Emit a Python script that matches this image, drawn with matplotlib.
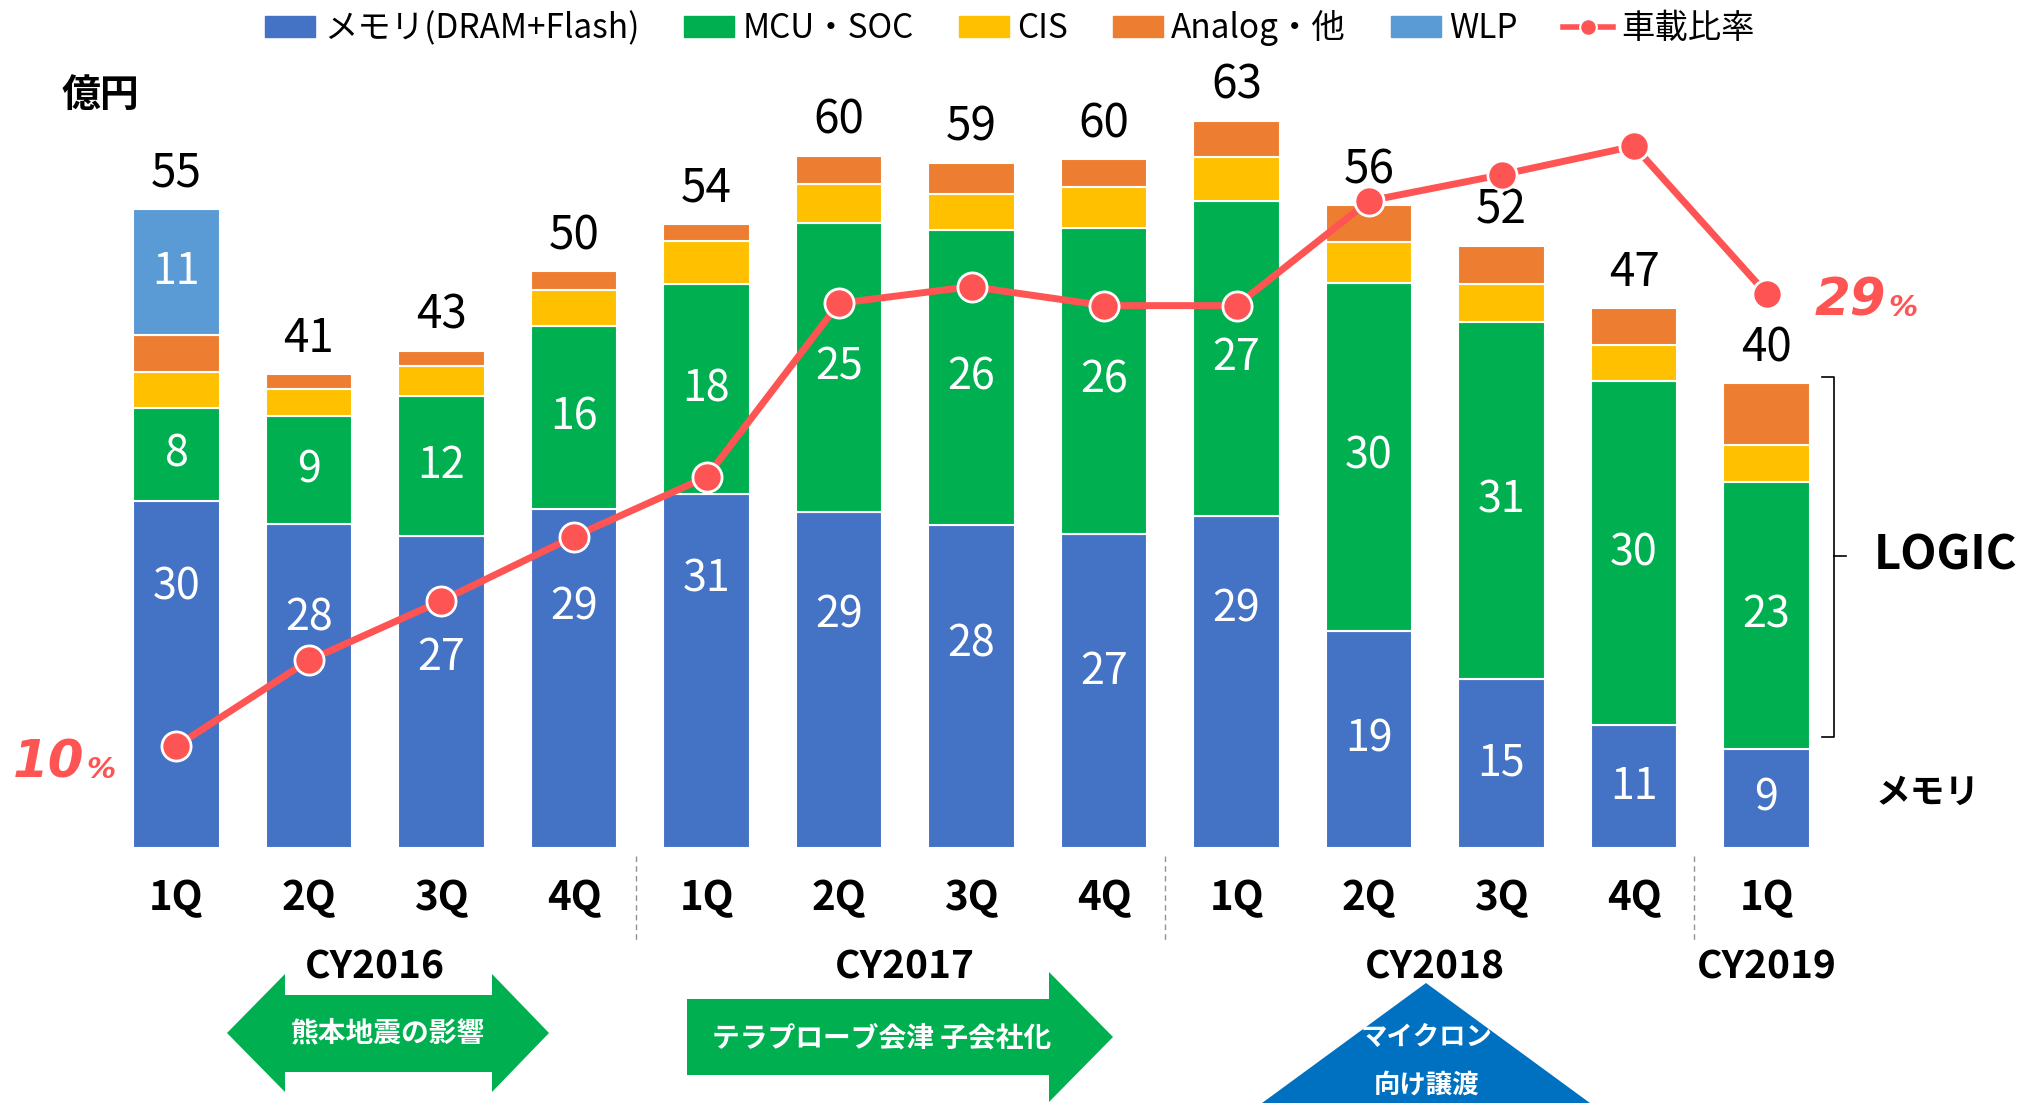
import matplotlib
matplotlib.use("Agg")
import matplotlib.pyplot as plt
import matplotlib.transforms as mtransforms
from matplotlib.patches import Polygon, Patch
from matplotlib.lines import Line2D
import numpy as np

plt.rcParams['font.family'] = ['Noto Sans CJK JP', 'DejaVu Sans']

# データ（億円）
quarters = ['1Q', '2Q', '3Q', '4Q', '1Q', '2Q', '3Q', '4Q', '1Q', '2Q', '3Q', '4Q', '1Q']
years = ['CY2016', 'CY2017', 'CY2018', 'CY2019']
memory = [30.0, 28.0, 27.0, 29.3, 30.6, 29.1, 27.9, 27.2, 28.7, 18.8, 14.6, 10.6, 8.6]
mcu_soc = [8.1, 9.4, 12.1, 15.9, 18.2, 25.0, 25.6, 26.4, 27.3, 30.1, 30.9, 29.8, 23.1]
cis = [3.1, 2.3, 2.6, 3.1, 3.7, 3.3, 3.1, 3.6, 3.8, 3.5, 3.3, 3.15, 3.2]
analog = [3.2, 1.3, 1.3, 1.6, 1.5, 2.5, 2.7, 2.4, 3.1, 3.2, 3.3, 3.2, 5.3]
wlp = [10.9, 0, 0, 0, 0, 0, 0, 0, 0, 0, 0, 0, 0]
# 車載比率（%）
car_ratio = [10.0, 13.6, 16.1, 18.8, 21.3, 28.6, 29.3, 28.5, 28.5, 32.9, 34.0, 35.2, 29.0]

# メモリのラベル位置（セグメント内の高さ比）
mem_label_frac = [0.75, 0.71, 0.61, 0.71, 0.76, 0.69, 0.63, 0.56, 0.72, 0.5, 0.5, 0.5, 0.5]

C_MEM = '#4472C4'
C_MCU = '#00B050'
C_CIS = '#FFC000'
C_ANA = '#ED7D31'
C_WLP = '#5B9BD5'
C_RED = '#FF5454'

W, H = 2020, 1103
fig = plt.figure(figsize=(W / 100, H / 100), dpi=100)
ax = fig.add_axes([0, 0, 1, 1])
ax.set_xlim(-1.332, 13.913)
ax.set_ylim(-22.06, 73.36)
ax.axis('off')

# 左上原点のピクセル座標
pix = mtransforms.Affine2D().scale(1 / W, -1 / H).translate(0, 1) + fig.transFigure

x = np.arange(len(quarters))
bw = 0.65
mem = np.array(memory)
mcu = np.array(mcu_soc)
ci = np.array(cis)
an = np.array(analog)
wl = np.array(wlp)

kw = dict(width=bw, edgecolor='white', linewidth=1.5)
ax.bar(x, mem, color=C_MEM, **kw)
ax.bar(x, mcu, bottom=mem, color=C_MCU, **kw)
ax.bar(x, ci, bottom=mem + mcu, color=C_CIS, **kw)
ax.bar(x, an, bottom=mem + mcu + ci, color=C_ANA, **kw)
ax.bar(x[wl > 0], wl[wl > 0], bottom=(mem + mcu + ci + an)[wl > 0], color=C_WLP, **kw)

total = mem + mcu + ci + an + wl
for i in range(len(x)):
    ax.text(x[i], total[i] + 1.9, f"{total[i]:.0f}", ha='center', va='baseline',
            fontsize=33, color='black')
    ax.text(x[i], mem[i] * mem_label_frac[i], f"{mem[i]:.0f}", ha='center', va='center',
            fontsize=31, color='white')
    ax.text(x[i], mem[i] + mcu[i] / 2, f"{mcu[i]:.0f}", ha='center', va='center',
            fontsize=31, color='white')
    if wl[i] > 0:
        b = mem[i] + mcu[i] + ci[i] + an[i]
        ax.text(x[i], b + wl[i] / 2, f"{wl[i]:.0f}", ha='center', va='center',
                fontsize=31, color='white')
    ax.text(x[i], -4.4, quarters[i], ha='center', va='center', fontsize=29,
            fontweight='bold')

# 年ラベル
for xi, yr in zip([1.5, 5.5, 9.5, 12], years):
    ax.text(xi, -10.3, yr, ha='center', va='center', fontsize=28, fontweight='bold')

# 区切り線
for xs in [3.47, 7.46, 11.45]:
    ax.plot([xs, xs], [-0.7, -8.1], color='#909090', lw=1, ls=(0, (4, 3)))

# 車載比率（第2軸）
ax2 = ax.twinx()
ax2.set_ylim(-5.0, 41.34)
ax2.axis('off')
ax2.plot(x, car_ratio, color=C_RED, lw=5, marker='o', ms=21,
         markerfacecolor=C_RED, markeredgecolor='white', markeredgewidth=2, zorder=5)

# 10% / 29%
ax.text(84, 778, '10', transform=pix, ha='right', va='baseline', color=C_RED,
        fontsize=37, fontweight='bold', style='italic', family='DejaVu Sans')
ax.text(86, 778, '%', transform=pix, ha='left', va='baseline', color=C_RED,
        fontsize=21, fontweight='bold', style='italic', family='DejaVu Sans')
ax.text(1886, 316, '29', transform=pix, ha='right', va='baseline', color=C_RED,
        fontsize=37, fontweight='bold', style='italic', family='DejaVu Sans')
ax.text(1888, 316, '%', transform=pix, ha='left', va='baseline', color=C_RED,
        fontsize=21, fontweight='bold', style='italic', family='DejaVu Sans')

# 単位
ax.text(100, 95, '億円', transform=pix, ha='center', va='center', fontsize=28,
        fontweight='bold')

# LOGIC の括弧
ax.plot([1822, 1834, 1834, 1822], [377, 377, 737, 737], transform=pix,
        color='black', lw=1.2, clip_on=False)
ax.plot([1834, 1846], [556, 556], transform=pix, color='black', lw=1.2, clip_on=False)
ax.text(1874, 556, 'LOGIC', transform=pix, ha='left', va='center', fontsize=34,
        fontweight='bold')
ax.text(1876, 792, 'メモリ', transform=pix, ha='left', va='center', fontsize=25,
        fontweight='bold')

# 矢印：熊本地震の影響
arr1 = [(227, 1033), (285, 974), (285, 995), (492, 995), (492, 974), (549, 1033),
        (492, 1092), (492, 1072), (285, 1072), (285, 1092)]
fig.add_artist(Polygon(arr1, closed=True, transform=pix, fc=C_MCU, ec='none', zorder=1))
fig.text(388, 1033, '熊本地震の影響', transform=pix, ha='center', va='center',
         fontsize=20, fontweight='bold', color='white', zorder=3)

# 矢印：テラプローブ会津 子会社化
arr2 = [(687, 999), (1049, 999), (1049, 972), (1113, 1037), (1049, 1102),
        (1049, 1075), (687, 1075)]
fig.add_artist(Polygon(arr2, closed=True, transform=pix, fc=C_MCU, ec='none', zorder=1))
fig.text(882, 1038, 'テラプローブ会津 子会社化', transform=pix, ha='center', va='center',
         fontsize=20, fontweight='bold', color='white', zorder=3)

# 三角：マイクロン向け譲渡
tri = [(1426, 983), (1620, 1125), (1232, 1125)]
fig.add_artist(Polygon(tri, closed=True, transform=pix, fc='#0070C0', ec='none', zorder=1))
fig.text(1427, 1038, 'マイクロン', transform=pix, ha='center', va='center',
         fontsize=19, fontweight='bold', color='white', zorder=3)
fig.text(1427, 1085, '向け譲渡', transform=pix, ha='center', va='center',
         fontsize=19, fontweight='bold', color='white', zorder=3)

# 凡例
handles = [Patch(color=C_MEM), Patch(color=C_MCU), Patch(color=C_CIS),
           Patch(color=C_ANA), Patch(color=C_WLP),
           Line2D([], [], color=C_RED, lw=4, marker='o', ms=12,
                  markeredgecolor='white', markeredgewidth=1.5)]
labels = ['メモリ(DRAM+Flash)', 'MCU・SOC', 'CIS', 'Analog・他', 'WLP', '車載比率']
ax.legend(handles, labels, loc='center', bbox_to_anchor=(0.5, 1 - 28 / H),
          bbox_transform=fig.transFigure, ncol=6, frameon=False, fontsize=24,
          handlelength=1.5, handleheight=0.6, handletextpad=0.25, columnspacing=1.35)

plt.savefig('out.png', dpi=100)
